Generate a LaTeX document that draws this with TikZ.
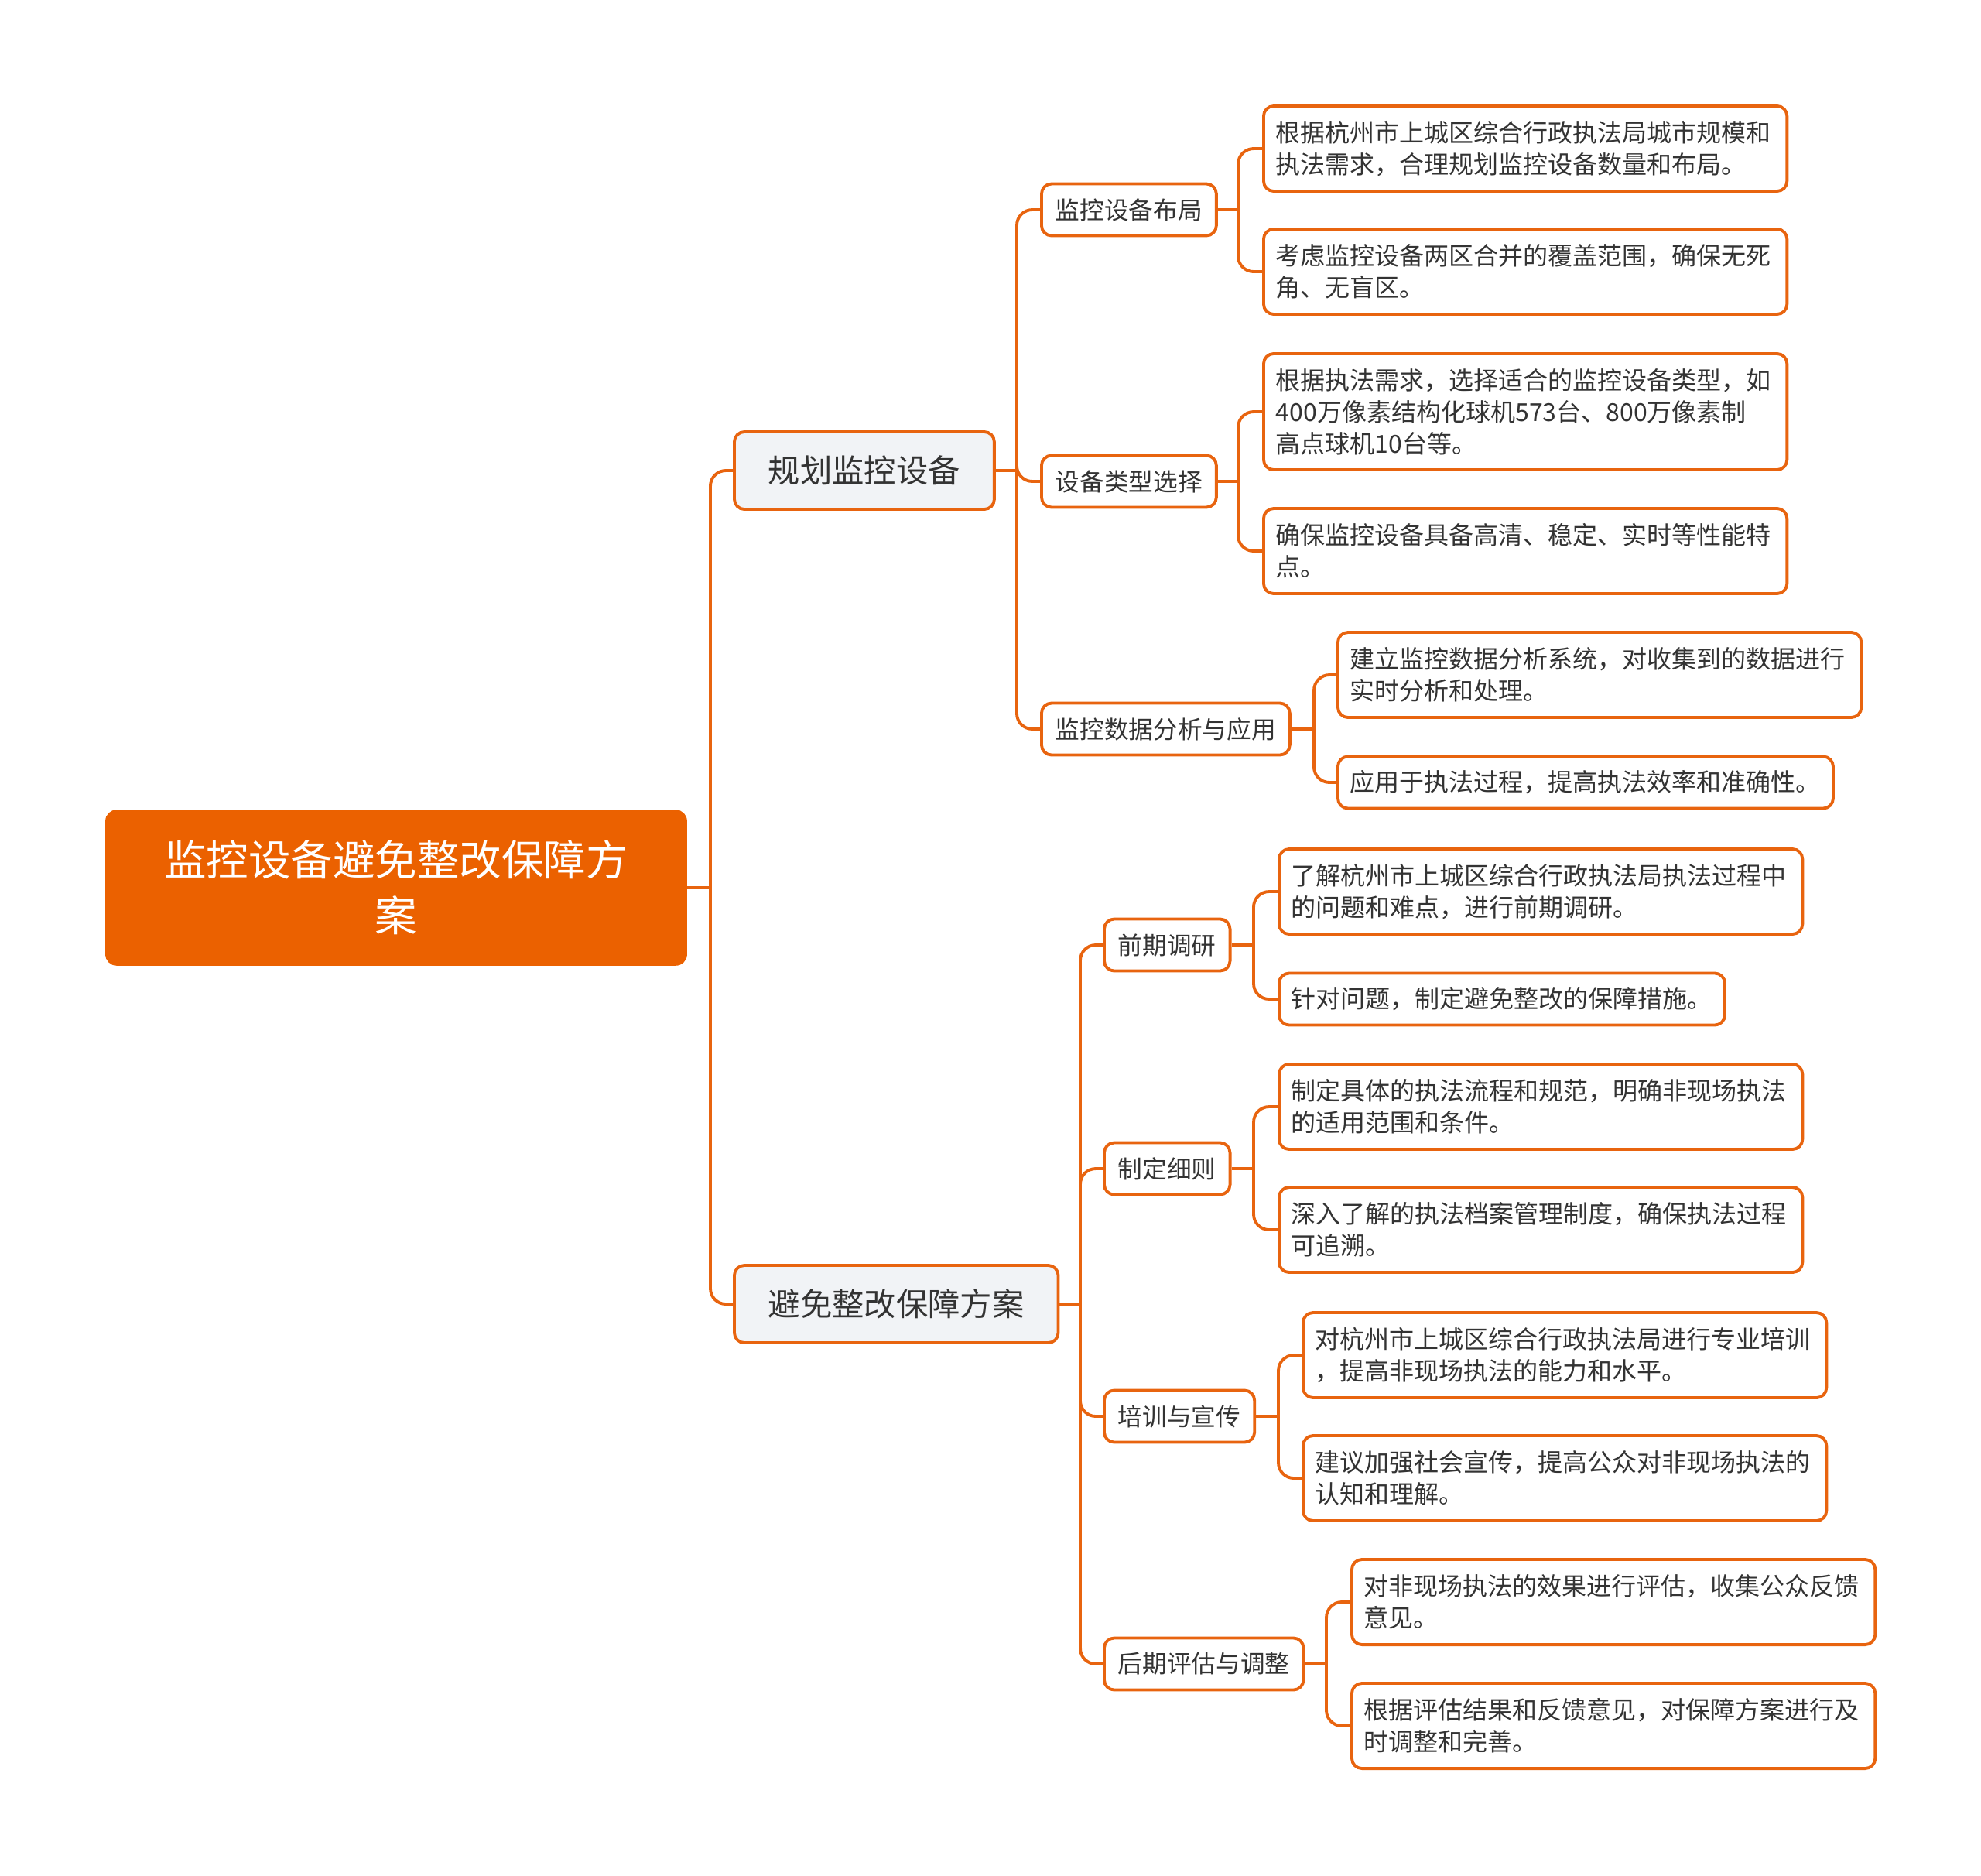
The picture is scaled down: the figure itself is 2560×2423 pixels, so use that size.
\documentclass[tikz,border=0pt]{standalone}
\usepackage{fontspec}
\setmainfont{Noto Sans CJK SC}
\definecolor{lineor}{HTML}{E8640F}
\definecolor{rootor}{HTML}{EB6100}
\definecolor{lvgray}{HTML}{F1F3F6}
\definecolor{txt}{HTML}{333333}
\begin{document}
\begin{tikzpicture}[x=0.01cm,y=-0.01cm,
 conn/.style={draw=lineor, line width=1.1pt},
 elb/.style={conn, rounded corners=0.2cm},
 rootbox/.style={fill=rootor, draw=rootor, rounded corners=0.14cm, text=white, font=\fontsize{15.5pt}{20.5pt}\selectfont, align=center, minimum width=7.5cm, minimum height=2cm, inner sep=0pt},
 lvone/.style={fill=lvgray, draw=lineor, line width=1.1pt, rounded corners=0.13cm, text=txt, font=\fontsize{11.75pt}{14pt}\selectfont, inner xsep=0.44cm, inner ysep=0pt, minimum height=1cm, anchor=west},
 lvtwo/.style={fill=white, draw=lineor, line width=1.1pt, rounded corners=0.13cm, text=txt, font=\fontsize{9pt}{11pt}\selectfont, inner xsep=0.18cm, inner ysep=0pt, minimum height=0.67cm, anchor=west},
 leaf/.style={fill=white, draw=lineor, line width=1.1pt, rounded corners=0.13cm, text=txt, font=\fontsize{9.1pt}{11.6pt}\selectfont, align=left, inner xsep=0.16cm, inner ysep=0pt, anchor=west, minimum height=0.67cm},
 leafw/.style={leaf, text width=6.44cm, minimum height=1.1cm},
]
\useasboundingbox (0,0) rectangle (2560,2423);

% trunks
\coordinate (tM) at (918,0);
\coordinate (tA) at (1314,0);
\coordinate (tB) at (1396,0);
\coordinate (ta1) at (1600,0);
\coordinate (ta2) at (1600,0);
\coordinate (ta3) at (1698,0);
\coordinate (tb1) at (1620,0);
\coordinate (tb2) at (1620,0);
\coordinate (tb3) at (1652,0);
\coordinate (tb4) at (1714,0);

\node[rootbox] (root) at (512,1147) {监控设备避免整改保障方\\案};

\node[lvone] (A) at (947,608) {规划监控设备};
\node[lvone] (B) at (947,1685) {避免整改保障方案};

\node[lvtwo] (a1) at (1344,271) {监控设备布局};
\node[lvtwo] (a2) at (1344,622) {设备类型选择};
\node[lvtwo] (a3) at (1344,942) {监控数据分析与应用};

\node[lvtwo] (b1) at (1425,1221) {前期调研};
\node[lvtwo] (b2) at (1425,1510) {制定细则};
\node[lvtwo] (b3) at (1425,1830) {培训与宣传};
\node[lvtwo] (b4) at (1425,2150) {后期评估与调整};

\node[leafw] (L1) at (1631,192) {根据杭州市上城区综合行政执法局城市规模和\\执法需求，合理规划监控设备数量和布局。};
\node[leafw] (L2) at (1631,351) {考虑监控设备两区合并的覆盖范围，确保无死\\角、无盲区。};
\node[leafw, minimum height=1.5cm] (L3) at (1631,532) {根据执法需求，选择适合的监控设备类型，如\\400万像素结构化球机573台、800万像素制\\高点球机10台等。};
\node[leafw] (L4) at (1631,712) {确保监控设备具备高清、稳定、实时等性能特\\点。};
\node[leafw] (L5) at (1727,872) {建立监控数据分析系统，对收集到的数据进行\\实时分析和处理。};
\node[leaf] (L6) at (1727,1011) {应用于执法过程，提高执法效率和准确性。};
\node[leafw] (L7) at (1651,1152) {了解杭州市上城区综合行政执法局执法过程中\\的问题和难点，进行前期调研。};
\node[leaf] (L8) at (1651,1291) {针对问题，制定避免整改的保障措施。};
\node[leafw] (L9) at (1651,1430) {制定具体的执法流程和规范，明确非现场执法\\的适用范围和条件。};
\node[leafw] (L10) at (1651,1589) {深入了解的执法档案管理制度，确保执法过程\\可追溯。};
\node[leafw] (L11) at (1682,1751) {对杭州市上城区综合行政执法局进行专业培训\\，提高非现场执法的能力和水平。};
\node[leafw] (L12) at (1682,1910) {建议加强社会宣传，提高公众对非现场执法的\\认知和理解。};
\node[leafw] (L13) at (1745,2070) {对非现场执法的效果进行评估，收集公众反馈\\意见。};
\node[leafw] (L14) at (1745,2230) {根据评估结果和反馈意见，对保障方案进行及\\时调整和完善。};

% connectors root
\draw[conn] (root.east) -- (root.east -| tM);
\draw[elb] (root.east -| tM) |- (A.west);
\draw[elb] (root.east -| tM) |- (B.west);
% A
\draw[conn] (A.east) -- (A.east -| tA);
\foreach \c in {a1,a2,a3} \draw[elb] (A.east -| tA) |- (\c.west);
% B
\draw[conn] (B.east) -- (B.east -| tB);
\foreach \c in {b1,b2,b3,b4} \draw[elb] (B.east -| tB) |- (\c.west);
% a1
\draw[conn] (a1.east) -- (a1.east -| ta1);
\foreach \c in {L1,L2} \draw[elb] (a1.east -| ta1) |- (\c.west);
\draw[conn] (a2.east) -- (a2.east -| ta2);
\foreach \c in {L3,L4} \draw[elb] (a2.east -| ta2) |- (\c.west);
\draw[conn] (a3.east) -- (a3.east -| ta3);
\foreach \c in {L5,L6} \draw[elb] (a3.east -| ta3) |- (\c.west);
\draw[conn] (b1.east) -- (b1.east -| tb1);
\foreach \c in {L7,L8} \draw[elb] (b1.east -| tb1) |- (\c.west);
\draw[conn] (b2.east) -- (b2.east -| tb2);
\foreach \c in {L9,L10} \draw[elb] (b2.east -| tb2) |- (\c.west);
\draw[conn] (b3.east) -- (b3.east -| tb3);
\foreach \c in {L11,L12} \draw[elb] (b3.east -| tb3) |- (\c.west);
\draw[conn] (b4.east) -- (b4.east -| tb4);
\foreach \c in {L13,L14} \draw[elb] (b4.east -| tb4) |- (\c.west);
\end{tikzpicture}
\end{document}
